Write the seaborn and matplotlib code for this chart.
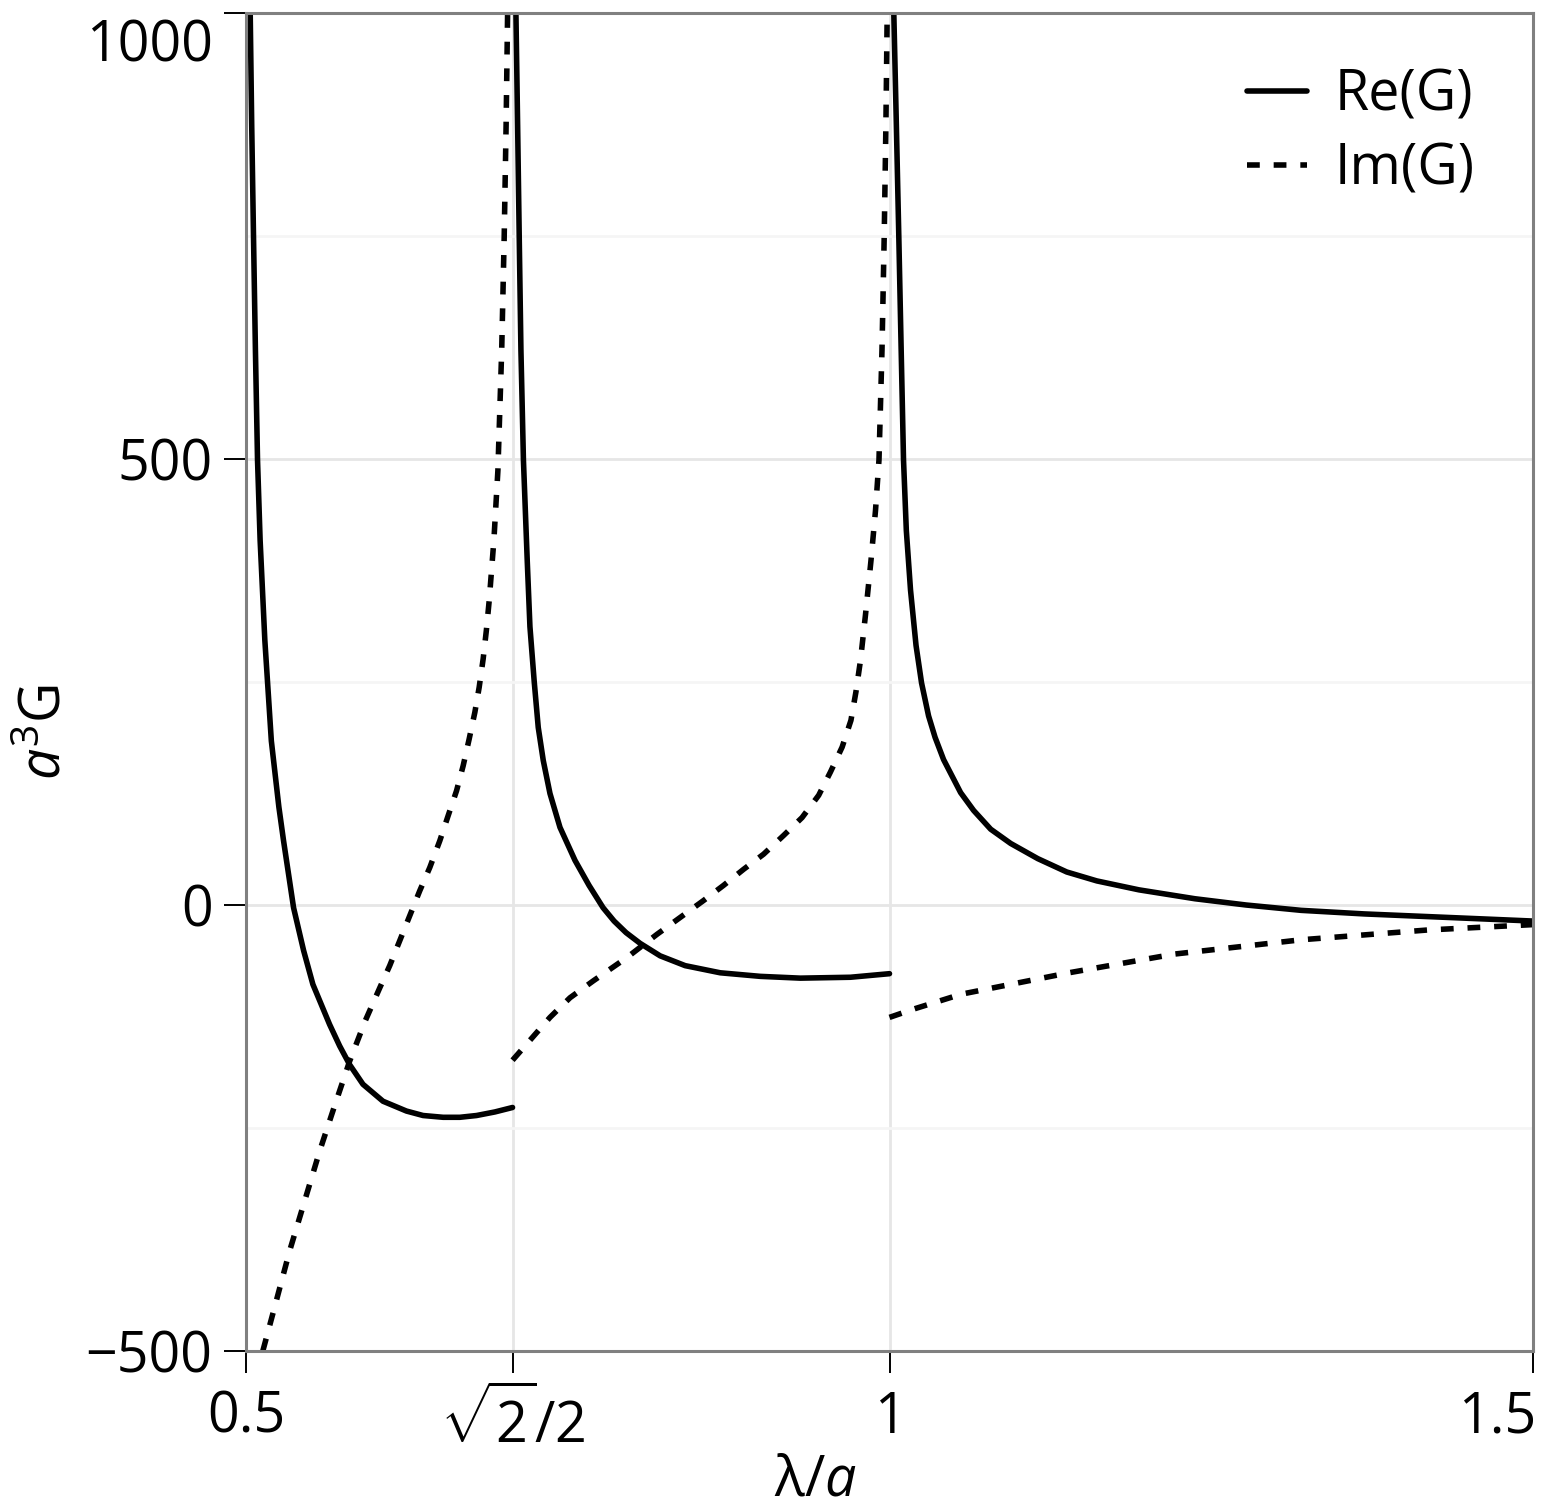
import numpy as np
import pandas as pd
import matplotlib
matplotlib.use("Agg")
import matplotlib.pyplot as plt
import matplotlib.transforms as mtransforms
from matplotlib.lines import Line2D
import seaborn as sns

# Real part of the lattice sum, one branch between each pair of singularities
re_lam_1 = [0.50327, 0.50444, 0.50584, 0.50732, 0.50895, 0.51097, 0.51463, 0.51969,
            0.52553, 0.52918, 0.53385, 0.53696, 0.54475, 0.55198, 0.56498, 0.57276,
            0.58054, 0.59089, 0.60646, 0.62467, 0.63759, 0.65315, 0.66615, 0.67914,
            0.69339, 0.70711]
re_val_1 = [1000, 874, 749, 622, 499, 409, 297, 184,
            110, 72, 27, -3, -51, -89, -134, -158,
            -179, -201, -220, -231, -236, -238, -238, -236,
            -232, -227]

re_lam_2 = [0.70973, 0.71105, 0.71230, 0.71362, 0.71556, 0.71852, 0.72062, 0.72397,
            0.72708, 0.73097, 0.73619, 0.74397, 0.75564, 0.76654, 0.77743, 0.78599,
            0.79533, 0.80623, 0.82179, 0.84125, 0.86848, 0.89961, 0.93074, 0.96965, 1.0]
re_val_2 = [1000, 874, 749, 622, 499, 386, 312, 250,
            199, 162, 125, 87, 50, 22, -3, -18,
            -31, -43, -57, -68, -76, -80, -82, -81, -77]

re_lam_3 = [1.00335, 1.00529, 1.00724, 1.00903, 1.01089, 1.01307, 1.01634, 1.02062,
            1.02490, 1.03035, 1.03541, 1.04202, 1.05525, 1.06537, 1.07860, 1.09416,
            1.11518, 1.13774, 1.16109, 1.19377, 1.23735, 1.27704, 1.31984, 1.36887,
            1.41829, 1.46755, 1.5]
re_val_3 = [1000, 877, 749, 625, 499, 420, 353, 291,
            249, 212, 188, 163, 126, 106, 85, 69,
            52, 37, 27, 17, 7, 0, -6, -10,
            -13, -16, -18]

# Imaginary part, same three branches
im_lam_1 = [0.51307, 0.52350, 0.53385, 0.54553, 0.55720, 0.56887, 0.58054, 0.59261,
            0.60389, 0.61167, 0.61946, 0.62724, 0.63502, 0.64280, 0.65058, 0.65704,
            0.66358, 0.66872, 0.67339, 0.67782, 0.68117, 0.68428, 0.68677, 0.68895,
            0.69261, 0.69572, 0.69868, 0.70062, 0.70210, 0.70327]
im_val_1 = [-500, -444, -388, -332, -276, -225, -175, -130,
            -93, -68, -40, -12, 16, 42, 72, 100,
            128, 156, 186, 216, 244, 276, 308, 341,
            409, 487, 622, 749, 874, 1000]

im_lam_2 = [0.70711, 0.73619, 0.75175, 0.76988, 0.79588, 0.81922, 0.83735, 0.85549,
            0.87105, 0.88661, 0.90218, 0.91774, 0.93206, 0.94498, 0.95409, 0.96319,
            0.97004, 0.97393, 0.97743, 0.98132, 0.98560, 0.98911, 0.99183, 0.99416,
            0.99588, 0.99720, 0.99821]
im_val_2 = [-174, -126, -104, -85, -59, -33, -14, 5,
            22, 40, 57, 78, 98, 123, 149, 177,
            207, 239, 274, 325, 386, 442, 499, 622,
            749, 874, 1000]

im_lam_3 = [1.0, 1.01805, 1.05574, 1.13930, 1.22148, 1.31984, 1.41829, 1.5]
im_val_3 = [-126, -117, -100, -76, -55, -39, -28, -22]

series_labels = ["Re(G)", "Im(G)"]
x_ticks = [0.5, np.sqrt(2) / 2, 1.0, 1.5]
x_tick_labels = ["0.5", r"$\sqrt{2}/2$", "1", "1.5"]
y_ticks = [-500, 0, 500, 1000]
y_minor_ticks = [-250, 250, 750]

branches = {
    "Re(G)": [(re_lam_1, re_val_1), (re_lam_2, re_val_2), (re_lam_3, re_val_3)],
    "Im(G)": [(im_lam_1, im_val_1), (im_lam_2, im_val_2), (im_lam_3, im_val_3)],
}
frames = []
for part, segs in branches.items():
    for k, (lam, val) in enumerate(segs, start=1):
        frames.append(pd.DataFrame({"lam": lam, "val": val, "part": part, "branch": k}))
df = pd.concat(frames, ignore_index=True)

sns.set_theme(style="white")
plt.rcParams["font.family"] = ["Open Sans", "DejaVu Sans"]
plt.rcParams["mathtext.fontset"] = "custom"
plt.rcParams["mathtext.rm"] = "Open Sans"
plt.rcParams["mathtext.it"] = "Open Sans:italic"
plt.rcParams["mathtext.bf"] = "Open Sans:bold"
plt.rcParams["axes.unicode_minus"] = True
plt.rcParams["text.color"] = "black"
plt.rcParams["axes.labelcolor"] = "black"

W, H = 1544, 1509
fig = plt.figure(figsize=(W / 100, H / 100), dpi=100)
ax = fig.add_axes([246 / W, 1 - 1351 / H, (1533 - 246) / W, (1351 - 13) / H])

LW = 4.0
DASH = (2.3, 2.5)
sns.lineplot(data=df, x="lam", y="val", style="part", units="branch",
             estimator=None, sort=False, color="black", linewidth=LW,
             dashes={"Re(G)": "", "Im(G)": DASH}, legend=False, ax=ax,
             solid_joinstyle="round", dash_joinstyle="round")

ax.set_xlim(0.5, 1.5)
ax.set_ylim(-500, 1000)
ax.set_xticks(x_ticks)
ax.set_xticklabels(x_tick_labels)
ax.set_yticks(y_ticks)
ax.set_yticks(y_minor_ticks, minor=True)

ax.set_axisbelow(True)
ax.grid(which="major", color="#e6e6e6", linewidth=2.0)
ax.grid(which="minor", axis="y", color="#f5f5f5", linewidth=2.0)

for sp in ax.spines.values():
    sp.set_visible(True)
    sp.set_color("#808080")
    sp.set_linewidth(2.2)

ax.tick_params(which="major", direction="out", length=16, width=1.4,
               color="black", labelsize=40, labelcolor="black",
               left=True, bottom=True, top=False, right=False)
ax.tick_params(axis="x", pad=12)
ax.tick_params(axis="y", pad=8)
ax.tick_params(which="minor", length=0)

# keep the outermost tick labels inside the canvas
ylabels = ax.get_yticklabels()
ylabels[-1].set_verticalalignment("top")
ylabels[-1].set_transform(ylabels[-1].get_transform() +
                          mtransforms.ScaledTranslation(0, -6 / 100, fig.dpi_scale_trans))
xlabels = ax.get_xticklabels()
xlabels[-1].set_horizontalalignment("right")
xlabels[-1].set_transform(xlabels[-1].get_transform() +
                          mtransforms.ScaledTranslation(3 / 100, 0, fig.dpi_scale_trans))

ax.set_xlabel(r"$\mathrm{\lambda}/a$", fontsize=40)
ax.set_ylabel(r"$a^{3}\mathrm{G}$", fontsize=40)
ax.xaxis.set_label_coords(0.442, -0.0755)
ax.yaxis.set_label_coords(-0.133, 0.4626)

handles = [Line2D([], [], color="black", linewidth=LW),
           Line2D([], [], color="black", linewidth=LW, dashes=DASH)]
leg = ax.legend(handles, series_labels, loc="upper right", bbox_to_anchor=(0.955, 0.959),
                frameon=False, fontsize=40, handlelength=1.08, handletextpad=0.5,
                labelspacing=0.3, borderpad=0, borderaxespad=0)
for t in leg.get_texts():
    t.set_color("black")

fig.savefig("out.png", dpi=100, facecolor="white")
